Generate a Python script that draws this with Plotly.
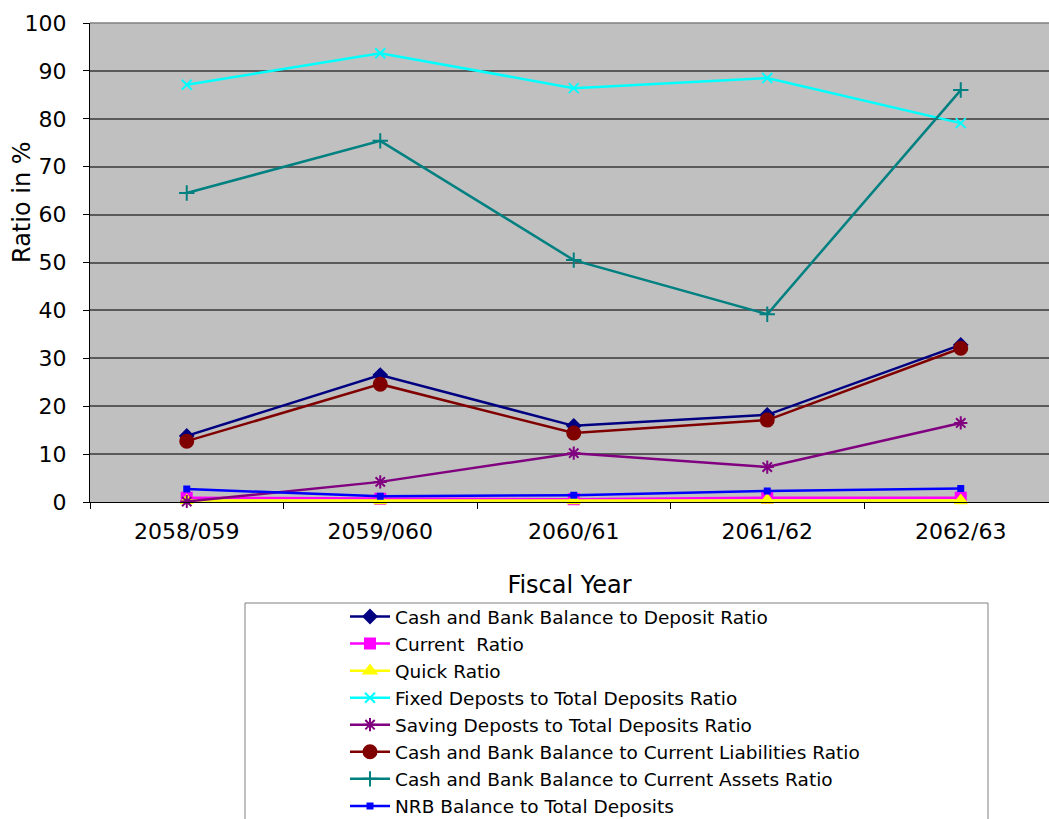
import plotly.graph_objects as go

years = ["2058/059", "2059/060", "2060/61", "2061/62", "2062/63"]

cash_to_deposit = [13.8, 26.5, 15.9, 18.2, 32.8]
current_ratio = [0.9, 0.7, 0.6, 0.9, 0.9]
quick_ratio = [0.3, 0.3, 0.3, 0.4, 0.3]
fixed_to_total = [87.1, 93.7, 86.4, 88.5, 79.1]
saving_to_total = [0.1, 4.2, 10.2, 7.3, 16.5]
cash_to_liabilities = [12.7, 24.6, 14.4, 17.1, 32.1]
cash_to_assets = [64.5, 75.4, 50.5, 39.2, 86.0]
nrb_to_deposits = [2.7, 1.2, 1.4, 2.3, 2.8]

series = [
    ("Cash and Bank Balance to Deposit Ratio", cash_to_deposit, "#000080", "diamond", 10),
    ("Current  Ratio", current_ratio, "#FF00FF", "square", 10),
    ("Quick Ratio", quick_ratio, "#FFFF00", "triangle-up", 11),
    ("Fixed Deposts to Total Deposits Ratio", fixed_to_total, "#00FFFF", "x-thin", 10),
    ("Saving Deposts to Total Deposits Ratio", saving_to_total, "#800080", "asterisk", 11),
    ("Cash and Bank Balance to Current Liabilities Ratio", cash_to_liabilities, "#800000", "circle", 13),
    ("Cash and Bank Balance to Current Assets Ratio", cash_to_assets, "#008080", "cross-thin", 11),
    ("NRB Balance to Total Deposits", nrb_to_deposits, "#0000FF", "square", 5),
]

fig = go.Figure()
for name, vals, color, symbol, size in series:
    fig.add_trace(go.Scatter(
        x=years, y=vals, name=name, mode="lines+markers",
        line=dict(color=color, width=2.5),
        marker=dict(symbol=symbol, size=size, color=color,
                    line=dict(color=color, width=2)),
        cliponaxis=False,
    ))

W, H = 1049, 819
ml, mr, mt, mb = 90, 0, 23, 317
pw, ph = W - ml - mr, H - mt - mb

def px_x(p):
    return (p - ml) / pw

def px_y(p):
    return (H - mb - p) / ph

FONT = "DejaVu Sans, Verdana, sans-serif"

fig.update_layout(
    width=W, height=H,
    margin=dict(l=ml, r=mr, t=mt, b=mb, pad=0, autoexpand=False),
    paper_bgcolor="white",
    plot_bgcolor="#C0C0C0",
    font=dict(family=FONT, size=22, color="black"),
    showlegend=True,
    legend=dict(
        x=px_x(345), y=px_y(598), xanchor="left", yanchor="top",
        font=dict(size=18.5, color="black"),
        bgcolor="rgba(0,0,0,0)", borderwidth=0,
        tracegroupgap=0, itemwidth=40,
    ),
    xaxis=dict(
        range=[-0.5, -0.5 + pw / 193.5],
        showgrid=False, zeroline=False,
        showline=True, linecolor="#000000", linewidth=1,
        ticks="outside", ticklen=6, tickcolor="#000000", tickson="boundaries",
        tickfont=dict(size=22), ticklabelstandoff=10,
        title=dict(text="Fiscal Year", font=dict(size=24), standoff=32),
    ),
    yaxis=dict(
        range=[0, 100], dtick=10,
        showgrid=True, gridcolor="#5A5A5A", gridwidth=1.5,
        zeroline=False,
        showline=True, linecolor="#000000", linewidth=1,
        ticks="outside", ticklen=6, tickcolor="#000000",
        tickfont=dict(size=22), ticklabelstandoff=12,
    ),
    annotations=[dict(
        text="Ratio in %", textangle=-90,
        xref="paper", yref="paper",
        x=px_x(22), y=px_y(202), xanchor="center", yanchor="middle",
        showarrow=False, font=dict(size=24),
    )],
    shapes=[
        dict(type="rect", xref="paper", yref="paper",
             x0=px_x(245), x1=px_x(988), y0=px_y(603), y1=px_y(830),
             line=dict(color="#808080", width=1), fillcolor="rgba(0,0,0,0)"),
        dict(type="line", xref="paper", yref="paper",
             x0=0, x1=1, y0=1, y1=1, line=dict(color="#808080", width=1.5)),
    ],
)

fig.write_html("out.html")
